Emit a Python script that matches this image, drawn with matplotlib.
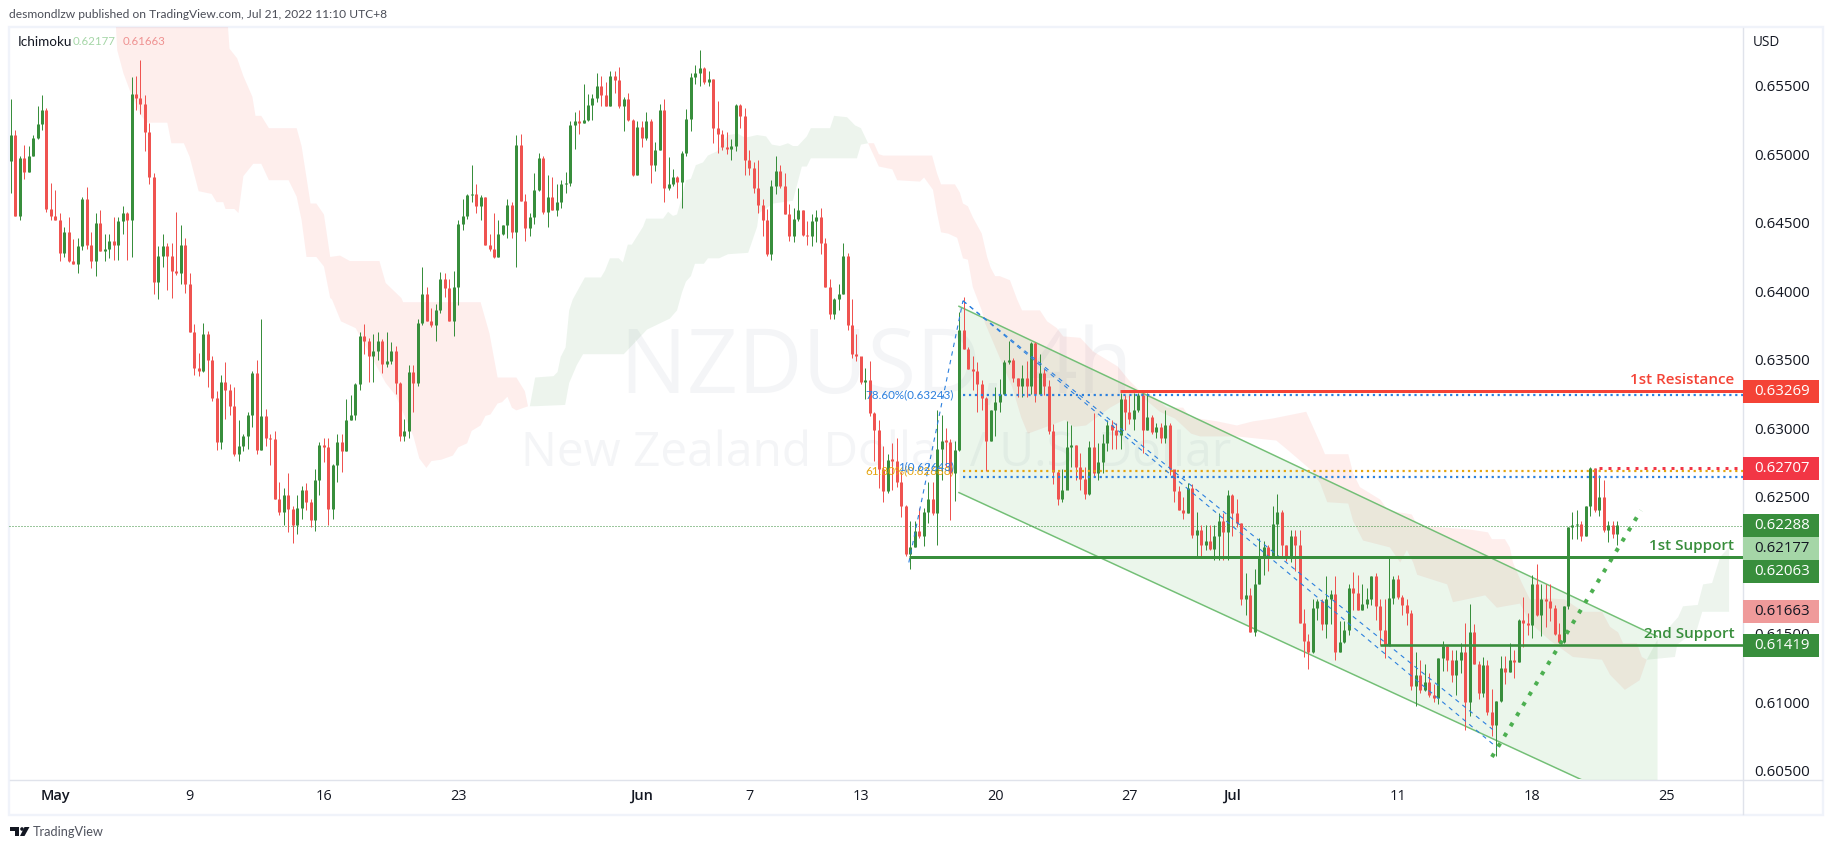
import numpy as np
from matplotlib import pyplot as plt
from matplotlib.patches import Circle, Polygon, Rectangle

plt.rcParams['font.family'] = ['Open Sans', 'DejaVu Sans']

# 4h candles, prices in pips (1 pip = 0.0001)
first_open = 6495
closes = [
    6514, 6455, 6497, 6487, 6499, 6512, 6522, 6532, 6460, 6455,
    6452, 6428, 6443, 6422, 6420, 6433, 6467, 6434, 6422, 6450,
    6429, 6431, 6437, 6434, 6451, 6457, 6452, 6544, 6541, 6537,
    6516, 6483, 6407, 6426, 6433, 6426, 6415, 6413, 6434, 6405,
    6370, 6344, 6342, 6369, 6350, 6322, 6290, 6334, 6328, 6316,
    6281, 6287, 6294, 6310, 6340, 6284, 6309, 6293, 6292, 6248,
    6239, 6251, 6241, 6229, 6242, 6255, 6246, 6233, 6262, 6288,
    6286, 6241, 6273, 6290, 6283, 6306, 6310, 6332, 6367, 6364,
    6353, 6356, 6364, 6347, 6349, 6356, 6333, 6294, 6298, 6341,
    6333, 6377, 6398, 6378, 6375, 6386, 6409, 6402, 6378, 6403,
    6449, 6455, 6470, 6471, 6462, 6469, 6434, 6431, 6425, 6442,
    6448, 6463, 6443, 6507, 6466, 6446, 6454, 6474, 6497, 6458,
    6469, 6459, 6465, 6478, 6479, 6521, 6524, 6523, 6525, 6536,
    6541, 6550, 6543, 6535, 6557, 6554, 6535, 6540, 6525, 6485,
    6520, 6512, 6524, 6492, 6503, 6532, 6475, 6478, 6483, 6480,
    6501, 6526, 6556, 6559, 6563, 6553, 6555, 6519, 6515, 6505,
    6504, 6506, 6536, 6528, 6496, 6490, 6475, 6463, 6452, 6427,
    6477, 6488, 6477, 6456, 6440, 6453, 6459, 6441, 6440, 6451,
    6454, 6435, 6403, 6383, 6394, 6398, 6426, 6375, 6354, 6353,
    6334, 6335, 6311, 6299, 6270, 6254, 6277, 6276, 6261, 6243,
    6208, 6213, 6225, 6221, 6239, 6248, 6238, 6285, 6291, 6290,
    6267, 6284, 6372, 6358, 6343, 6342, 6332, 6322, 6291, 6313,
    6319, 6325, 6348, 6350, 6337, 6331, 6337, 6331, 6362, 6325,
    6340, 6331, 6298, 6268, 6248, 6255, 6286, 6288, 6272, 6263,
    6252, 6286, 6267, 6275, 6289, 6302, 6299, 6295, 6321, 6312,
    6307, 6313, 6324, 6299, 6308, 6297, 6301, 6293, 6302, 6270,
    6254, 6240, 6238, 6256, 6222, 6226, 6215, 6218, 6212, 6221,
    6232, 6224, 6251, 6238, 6231, 6175, 6178, 6151, 6186, 6206,
    6213, 6206, 6230, 6239, 6215, 6206, 6221, 6215, 6158, 6145,
    6137, 6169, 6174, 6157, 6175, 6179, 6137, 6144, 6153, 6183,
    6180, 6167, 6172, 6175, 6192, 6170, 6153, 6142, 6176, 6190,
    6177, 6171, 6165, 6112, 6120, 6109, 6115, 6105, 6103, 6132,
    6141, 6131, 6120, 6131, 6137, 6100, 6151, 6128, 6107, 6127,
    6093, 6083, 6101, 6125, 6122, 6131, 6129, 6160, 6158, 6156,
    6186, 6164, 6175, 6174, 6169, 6150, 6144, 6170, 6228, 6229,
    6230, 6221, 6243, 6271, 6240, 6250, 6226, 6229, 6223, 6229,
]
highs = [
    6540, 6518, 6499, 6507, 6506, 6514, 6535, 6543, 6534, 6479,
    6474, 6457, 6447, 6454, 6438, 6439, 6469, 6476, 6443, 6457,
    6459, 6442, 6442, 6454, 6454, 6462, 6458, 6556, 6557, 6569,
    6543, 6523, 6486, 6433, 6442, 6435, 6435, 6458, 6448, 6439,
    6413, 6376, 6355, 6377, 6371, 6353, 6327, 6339, 6348, 6332,
    6330, 6306, 6296, 6312, 6342, 6350, 6380, 6314, 6296, 6298,
    6261, 6256, 6267, 6243, 6251, 6258, 6260, 6248, 6270, 6290,
    6293, 6293, 6274, 6296, 6296, 6321, 6324, 6333, 6370, 6376,
    6366, 6369, 6370, 6365, 6370, 6363, 6360, 6334, 6307, 6346,
    6346, 6380, 6418, 6403, 6388, 6391, 6414, 6413, 6409, 6415,
    6452, 6467, 6471, 6492, 6478, 6470, 6469, 6442, 6457, 6452,
    6448, 6467, 6465, 6514, 6515, 6471, 6457, 6486, 6501, 6499,
    6485, 6483, 6478, 6481, 6487, 6524, 6531, 6532, 6551, 6544,
    6544, 6559, 6557, 6553, 6561, 6561, 6564, 6542, 6545, 6526,
    6524, 6524, 6531, 6526, 6509, 6537, 6540, 6498, 6489, 6484,
    6502, 6533, 6559, 6565, 6576, 6564, 6561, 6555, 6539, 6518,
    6516, 6511, 6537, 6537, 6534, 6503, 6494, 6496, 6467, 6460,
    6481, 6499, 6492, 6486, 6464, 6461, 6475, 6459, 6451, 6456,
    6459, 6461, 6439, 6409, 6395, 6405, 6435, 6428, 6394, 6369,
    6350, 6344, 6349, 6312, 6306, 6287, 6281, 6289, 6293, 6268,
    6244, 6232, 6232, 6242, 6242, 6261, 6261, 6313, 6310, 6300,
    6292, 6291, 6385, 6396, 6359, 6353, 6348, 6335, 6323, 6313,
    6330, 6336, 6350, 6364, 6351, 6337, 6346, 6349, 6363, 6363,
    6354, 6343, 6335, 6303, 6269, 6270, 6305, 6302, 6288, 6282,
    6272, 6291, 6311, 6289, 6296, 6306, 6306, 6304, 6326, 6324,
    6324, 6326, 6326, 6326, 6326, 6310, 6304, 6304, 6313, 6304,
    6269, 6258, 6250, 6260, 6259, 6239, 6229, 6229, 6229, 6229,
    6238, 6238, 6255, 6252, 6248, 6231, 6194, 6183, 6197, 6220,
    6218, 6215, 6243, 6252, 6240, 6215, 6226, 6226, 6226, 6168,
    6150, 6175, 6175, 6175, 6192, 6182, 6192, 6159, 6159, 6186,
    6195, 6193, 6186, 6183, 6192, 6194, 6175, 6175, 6206, 6192,
    6193, 6178, 6175, 6167, 6137, 6131, 6128, 6121, 6113, 6132,
    6145, 6142, 6138, 6138, 6143, 6158, 6172, 6157, 6130, 6133,
    6131, 6110, 6101, 6134, 6134, 6143, 6138, 6161, 6177, 6165,
    6193, 6201, 6186, 6186, 6186, 6171, 6158, 6170, 6228, 6239,
    6240, 6232, 6243, 6272, 6271, 6266, 6262, 6232, 6232, 6232,
]
lows = [
    6472, 6455, 6452, 6482, 6487, 6499, 6511, 6518, 6458, 6452,
    6452, 6422, 6425, 6421, 6420, 6413, 6430, 6431, 6417, 6411,
    6429, 6422, 6424, 6423, 6423, 6442, 6423, 6425, 6532, 6529,
    6502, 6478, 6398, 6394, 6418, 6401, 6395, 6412, 6405, 6399,
    6370, 6339, 6338, 6341, 6330, 6320, 6284, 6285, 6307, 6310,
    6280, 6276, 6283, 6285, 6301, 6281, 6284, 6287, 6273, 6248,
    6237, 6229, 6224, 6216, 6223, 6234, 6240, 6228, 6225, 6251,
    6275, 6229, 6234, 6261, 6268, 6283, 6306, 6306, 6328, 6354,
    6334, 6334, 6350, 6340, 6345, 6347, 6325, 6291, 6291, 6293,
    6312, 6331, 6375, 6378, 6374, 6364, 6384, 6396, 6378, 6367,
    6390, 6445, 6453, 6465, 6457, 6452, 6434, 6429, 6424, 6425,
    6441, 6439, 6439, 6418, 6466, 6437, 6440, 6449, 6473, 6456,
    6447, 6459, 6455, 6461, 6472, 6477, 6504, 6515, 6523, 6524,
    6525, 6538, 6535, 6535, 6535, 6545, 6534, 6517, 6524, 6484,
    6485, 6505, 6510, 6479, 6488, 6503, 6465, 6474, 6477, 6468,
    6461, 6499, 6517, 6551, 6550, 6551, 6550, 6508, 6501, 6503,
    6500, 6496, 6502, 6519, 6485, 6485, 6472, 6457, 6440, 6426,
    6423, 6471, 6475, 6456, 6437, 6436, 6451, 6440, 6434, 6433,
    6436, 6427, 6403, 6380, 6380, 6386, 6398, 6372, 6351, 6349,
    6332, 6321, 6309, 6276, 6256, 6246, 6253, 6255, 6257, 6235,
    6207, 6197, 6213, 6220, 6214, 6231, 6237, 6215, 6262, 6272,
    6233, 6247, 6283, 6358, 6343, 6328, 6312, 6313, 6269, 6291,
    6294, 6312, 6324, 6347, 6334, 6323, 6323, 6323, 6325, 6319,
    6325, 6324, 6296, 6259, 6244, 6246, 6259, 6272, 6262, 6255,
    6248, 6251, 6265, 6262, 6267, 6283, 6285, 6285, 6285, 6299,
    6303, 6299, 6312, 6282, 6299, 6296, 6293, 6289, 6289, 6266,
    6246, 6240, 6234, 6238, 6220, 6206, 6206, 6211, 6211, 6204,
    6204, 6204, 6204, 6221, 6228, 6171, 6164, 6151, 6148, 6186,
    6193, 6196, 6206, 6206, 6206, 6203, 6202, 6196, 6158, 6133,
    6124, 6136, 6160, 6153, 6147, 6157, 6131, 6137, 6143, 6149,
    6167, 6167, 6167, 6169, 6171, 6160, 6142, 6132, 6142, 6172,
    6175, 6164, 6156, 6109, 6097, 6107, 6108, 6104, 6100, 6099,
    6123, 6123, 6115, 6105, 6121, 6080, 6090, 6128, 6102, 6104,
    6091, 6075, 6061, 6100, 6113, 6122, 6118, 6129, 6140, 6149,
    6147, 6163, 6148, 6155, 6159, 6149, 6143, 6143, 6168, 6219,
    6219, 6218, 6221, 6236, 6239, 6236, 6224, 6217, 6220, 6215,
]

# ichimoku cloud outlines: bar position and price in pips
red1_top_x = [23.4, 48.4, 48.9, 50.6, 52, 54, 54.7, 56, 57.7, 63.9, 65, 67, 68.3, 70, 71.4, 73.6, 75.8,
              82.4, 83.8, 87.3, 87.7, 105, 107, 108.8, 113, 114.9, 115.6]
red1_top_y = [6600, 6600, 6577, 6570, 6557, 6542, 6528, 6528, 6519, 6519, 6506, 6464, 6464, 6456, 6425, 6426, 6422,
              6422, 6406, 6395, 6392, 6392, 6369, 6337, 6337, 6327, 6316]
red1_low_x = [23.4, 23.8, 25.2, 26.8, 29, 30.3, 35, 35.9, 38.7, 40, 42, 44.9, 46, 47.5, 48, 50, 50.9, 52, 54.2, 56,
              57.7, 62.1, 63.9, 65, 66.1, 68.3, 70, 71.4, 71.8, 73.8, 77.1, 83.8, 86, 90, 91.3, 92.9, 94, 96.2,
              98.8, 100, 102, 103, 105, 106.1, 107.2, 108.8, 109.8, 111, 112, 113, 115.6]
red1_low_y = [6600, 6576, 6559, 6545, 6529, 6523, 6523, 6508, 6508, 6498, 6473, 6471, 6465, 6465, 6460, 6460, 6457,
              6484, 6493, 6493, 6481, 6481, 6469, 6452, 6425, 6425, 6418, 6395, 6394, 6378, 6373, 6333, 6324, 6294,
              6278, 6271, 6276, 6277, 6280, 6286, 6289, 6298, 6302, 6309, 6310, 6318, 6319, 6323, 6315, 6313, 6316]

green1_top_x = [116, 117.2, 121.3, 122.2, 122.9, 124, 124.8, 125.6, 128.3, 131.9, 132.8, 133.9, 135.9, 136.8, 137.9,
                138.8, 141.3, 142, 145.8, 146.9, 148, 148.9, 150, 150.9, 152, 153.1, 154.7, 155.8, 157.8, 160.3,
                162.5, 164.1, 166.8, 168.8, 170.1, 171.9, 173.7, 174.8, 175.9, 177.9, 178.8, 183.1, 184, 186.9,
                188.7, 190, 191.6]
green1_top_y = [6316, 6337, 6338, 6341, 6352, 6359, 6386, 6394, 6410, 6410, 6415, 6424, 6424, 6421, 6434,
                6434, 6447, 6453, 6453, 6458, 6455, 6456, 6469, 6481, 6482, 6492, 6494, 6499, 6502, 6514,
                6515, 6512, 6514, 6513, 6507, 6506, 6508, 6506, 6506, 6513, 6519, 6519, 6528, 6527,
                6521, 6519, 6508]
green1_low_x = [116, 117, 123.9, 124.8, 126.5, 127.9, 137, 142.2, 147.3, 148.9, 150, 150.9, 152, 152.9, 154.9, 155.8,
                158.3, 160.3, 164.8, 166.8, 167.2, 170.4, 174.8, 176.8, 177.9, 178.8, 189.1, 190, 191.6]
green1_low_y = [6316, 6316, 6317, 6333, 6346, 6354, 6354, 6372, 6380, 6386, 6399, 6407, 6411, 6420, 6420, 6424,
                6424, 6427, 6428, 6447, 6457, 6464, 6466, 6491, 6491, 6497, 6497, 6507, 6508]

red2_top_x = [191.6, 192.9, 194, 195, 205.9, 207, 207.9, 211, 212.1, 212.8, 213.9, 215, 217, 218.2, 219, 220, 221,
              223.3, 224.9, 226, 230, 231.6, 233.8, 235.2, 239, 241.9, 247.4, 249.9, 252.1, 255, 258.4, 262,
              263.5, 269.6, 274, 277.6, 281.9, 289.5, 292.8, 293.7, 298.9, 300, 301.5, 306, 307.8, 313.1, 314.3,
              326.1, 330.1, 331, 333.9, 335, 335.7, 336.6, 337.7, 339.5, 342.9, 347.3, 351.4, 355.6, 357.4,
              359.2, 360.3, 363.4, 364.5, 365.6]
red2_top_y = [6508, 6508, 6500, 6499, 6499, 6486, 6478, 6478, 6472, 6464, 6462, 6454, 6442, 6425, 6417, 6411, 6411,
              6408, 6394, 6386, 6386, 6378, 6373, 6367, 6366, 6356, 6345, 6335, 6328, 6324, 6315, 6315,
              6308, 6305, 6302, 6305, 6307, 6312, 6288, 6281, 6281, 6267, 6257, 6248, 6240, 6237, 6229,
              6226, 6224, 6219, 6219, 6213, 6202, 6195, 6187, 6175, 6176, 6175, 6166, 6166, 6155,
              6151, 6143, 6143, 6133, 6131]
red2_low_x = [191.6, 194, 197, 198.1, 203.2, 204.1, 206.1, 207, 207.9, 209.5, 211.5, 212.8, 213.9, 215, 217, 217.7,
              223.8, 225.8, 227.3, 235.6, 237.6, 240.3, 245.7, 251.7, 256.8, 260.2, 263.8, 265.8, 274, 282.8,
              285.4, 290.4, 292.6, 294.2, 298.9, 300, 302.2, 308.2, 310.5, 312, 313.4, 314.3, 321, 322.3, 329.5,
              332.1, 337.3, 339.5, 344, 349.1, 355.6, 357.4, 360.7, 364, 365.6]
red2_low_y = [6508, 6491, 6489, 6481, 6480, 6483, 6474, 6457, 6443, 6442, 6439, 6424, 6423, 6403, 6386, 6377,
              6330, 6308, 6296, 6306, 6301, 6302, 6315, 6326, 6312, 6307, 6296, 6294, 6294, 6291,
              6284, 6270, 6260, 6246, 6245, 6232, 6218, 6213, 6202, 6211, 6202, 6193, 6186, 6173, 6178,
              6169, 6172, 6158, 6145, 6133, 6131, 6120, 6109, 6116, 6131]

green2_top_x = [365.6, 367.9, 372.6, 373.7, 377, 378.2, 380.2, 382, 384]
green2_top_y = [6131, 6145, 6162, 6170, 6171, 6186, 6187, 6206, 6213]
green2_low_x = [365.6, 371.9, 372.4, 376.8, 378, 384]
green2_low_y = [6131, 6133, 6142, 6153, 6166, 6166]

# descending channel, ends in (bar, pips)
channel_x = [211.9, 367.9]
channel_up = [6389, 6148]
channel_dn = [6253, 6018]

# fibonacci levels, and where their labels sit
fib_prices = [0.63243, 0.62688, 0.62643]
fib_names = ['78.60%(0.63243)', '61.80%(0.62688)', '1(0.62643)']
fib_label_pos = [0.63243, 0.62688, 0.62716]
fib_colors = ['#2a7fde', '#e5a50f', '#2a7fde']

# horizontal levels
resistance = 0.63269
swing_high = 0.62707
support1 = 0.62063
support2 = 0.61419
last_close = 0.62288

level_names = ['1st Resistance', '1st Support', '2nd Support']
level_name_pos = [0.63354, 0.6214, 0.61497]
level_name_colors = ['#f44336', '#388e3c', '#388e3c']

# fib trend legs and the dotted trendline (bar, pips)
fib_up_x = [200.7, 212.8]
fib_up_y = [6202, 6393]
fib_dn1_x = [212.8, 331.2]
fib_dn1_y = [6393, 6080]
fib_dn2_x = [212.8, 332.1]
fib_dn2_y = [6393, 6067]
trend_x = [331, 364.3]
trend_y = [6060, 6240]

# price axis tags
tag_values = ['0.63269', '0.62707', '0.62288', '0.62177', '0.62063', '0.61663', '0.61419']
tag_pos = [0.63267, 0.62707, 0.62288, 0.62124, 0.61956, 0.6166, 0.61415]
tag_bg = ['#f44336', '#f23645', '#388e3c', '#a5d6a7', '#388e3c', '#ef9a9a', '#388e3c']
tag_fg = ['white', 'white', 'white', '#131722', 'white', '#131722', 'white']

price_ticks = [0.655, 0.65, 0.645, 0.64, 0.635, 0.63, 0.625, 0.62, 0.615, 0.61, 0.605]
time_ticks = [10, 40, 70, 100, 141, 165, 190, 220, 250, 273, 310, 340, 370]
time_labels = ['May', '9', '16', '23', 'Jun', '7', '13', '20', '27', 'Jul', '11', '18', '25']


W, H = 1833, 850
PX = 0.72  # pixels to points at dpi 100
GREEN = '#388e3c'
RED = '#ef5350'

fig = plt.figure(figsize=(W / 100, H / 100), dpi=100, facecolor='white')

# page furniture, in pixel coordinates
page = fig.add_axes([0, 0, 1, 1], zorder=-1)
page.set_xlim(0, W)
page.set_ylim(H, 0)
page.axis('off')
page.add_patch(Rectangle((9, 27), 1814, 788, fill=False, ec='#f0f3fa', lw=2.4 * PX))
page.plot([1743, 1743], [28, 814], color='#e0e3eb', lw=1.4 * PX)
page.plot([10, 1822], [779.5, 779.5], color='#e0e3eb', lw=1.4 * PX)
page.text(9, 14.5, 'desmondlzw published on TradingView.com, Jul 21, 2022 11:10 UTC+8',
          fontsize=12 * PX, color='#4a4d57', va='center', family='Lato')
page.text(33, 832.5, 'TradingView', fontsize=12.8 * PX, color='#50535e', va='center', family='Lato')
page.text(1753, 42.5, 'USD', fontsize=13.5 * PX, color='#131722', va='center')
page.text(18, 41.5, 'Ichimoku', fontsize=13.5 * PX, color='#131722', va='center', family='Lato')
page.text(73, 41.5, '0.62177', fontsize=11.5 * PX, color='#a5d6a7', va='center', family='Lato')
page.text(123, 41.5, '0.61663', fontsize=11.5 * PX, color='#ef9a9a', va='center', family='Lato')
page.add_patch(Polygon([(10, 827), (19.5, 827), (19.5, 836), (15, 836), (15, 831), (10, 831)], color='#131722', lw=0))
page.add_patch(Circle((22, 829), 1.8, color='#131722', lw=0))
page.add_patch(Polygon([(24.5, 827), (29.5, 827), (24.5, 836), (20, 836)], color='#131722', lw=0))

ax = fig.add_axes([9 / W, (H - 779) / H, (1743 - 9) / W, (779 - 27) / H])
ax.patch.set_alpha(0)
ax.set_xlim((9 - 10.7) / 4.475, (1743 - 10.7) / 4.475)
ax.set_ylim(0.605 - 8.3 / 13700, 0.605 + 743.7 / 13700)
for s in ax.spines.values():
    s.set_visible(False)

# axis labels
ax.yaxis.tick_right()
ax.set_yticks(price_ticks)
ax.set_yticklabels(['%.5f' % p for p in price_ticks], fontsize=15 * PX, color='#131722')
ax.tick_params(axis='y', length=0, pad=11 * PX)
ax.set_xticks(time_ticks)
ax.set_xticklabels(time_labels, fontsize=14.5 * PX, color='#131722')
ax.tick_params(axis='x', length=0, pad=10 * PX)
for t in ax.get_xticklabels():
    if t.get_text() in ('May', 'Jun', 'Jul'):
        t.set_fontweight('semibold')

# watermark
ax.text(193.5, 0.6343, 'NZDUSD, 4h', fontsize=89 * PX, color='#f4f5f7', ha='center', va='center', zorder=0.5)
ax.text(193.5, 0.6282, 'New Zealand Dollar / U.S. Dollar', fontsize=47.8 * PX, color='#f4f5f7',
        ha='center', va='center', zorder=0.5)


def cloud(tx, ty, lx, ly, color):
    xs = list(tx) + list(lx)[::-1]
    ys = [v / 10000 for v in ty] + [v / 10000 for v in ly][::-1]
    ax.fill(xs, ys, color=color, alpha=0.09, lw=0, zorder=1)


cloud(red1_top_x, red1_top_y, red1_low_x, red1_low_y, '#f44336')
cloud(green1_top_x, green1_top_y, green1_low_x, green1_low_y, GREEN)
cloud(red2_top_x, red2_top_y, red2_low_x, red2_low_y, '#f44336')
cloud(green2_top_x, green2_top_y, green2_low_x, green2_low_y, GREEN)

# channel
cu = np.array(channel_up) / 10000
cd = np.array(channel_dn) / 10000
ax.fill_between(channel_x, cu, cd, color='#4caf50', alpha=0.11, lw=0, zorder=2)
ax.plot(channel_x, cu, color='#73bf76', lw=1.5 * PX, zorder=2.2)
ax.plot(channel_x, cd, color='#73bf76', lw=1.5 * PX, zorder=2.2)

# candles, wick and body both as snapped vertical lines so the widths stay even
c = np.array(closes) / 10000
h = np.array(highs) / 10000
l = np.array(lows) / 10000
o = np.r_[first_open / 10000, c[:-1]]
x = np.arange(len(c))
colors = [GREEN if cc >= oo else RED for oo, cc in zip(o, c)]
wicks = ax.vlines(x, l, h, colors=colors, lw=1 * PX, zorder=3)
wicks.set_snap(True)
body = np.maximum(np.abs(c - o), 0.00012)
bottoms = np.minimum(o, c)
bodies = ax.vlines(x, bottoms, bottoms + body, colors=colors, lw=3 * PX, zorder=3.1, capstyle='butt')
bodies.set_snap(True)

# levels
left, right = ax.get_xlim()
ax.hlines(last_close, left, right, color=GREEN, lw=1 * PX, linestyles=(0, (1, 2)), zorder=2.9)
ax.hlines(fib_prices, 212.8, right, colors=fib_colors, lw=2.2 * PX, linestyles=(0, (1, 1.7)), zorder=4)
for p, n, col in zip(fib_label_pos, fib_names, fib_colors):
    ax.text(210.8, p, n, fontsize=11.6 * PX, color=col, ha='right', va='center', zorder=4.5, family='Lato')
ax.hlines(resistance, 247.9, right, color='#f44336', lw=3 * PX, zorder=5)
ax.hlines(swing_high, 355, right, color='#f23645', lw=3 * PX, linestyles=(0, (1, 2)), zorder=5)
ax.hlines(support1, 200.7, right, color=GREEN, lw=3 * PX, zorder=5)
ax.hlines(support2, 306, right, color=GREEN, lw=2.6 * PX, zorder=5)

# fib trend legs and trendline
ax.plot(fib_up_x, np.array(fib_up_y) / 10000, color='#2a7fde', lw=1.1 * PX, ls=(0, (4, 4)), zorder=4.4)
ax.plot(fib_dn1_x, np.array(fib_dn1_y) / 10000, color='#2a7fde', lw=1.1 * PX, ls=(0, (4, 4)), zorder=4.4)
ax.plot(fib_dn2_x, np.array(fib_dn2_y) / 10000, color='#2a7fde', lw=1.1 * PX, ls=(0, (4, 4)), zorder=4.4)
ax.plot(trend_x, np.array(trend_y) / 10000, color='#4caf50', lw=4 * PX, ls=(0, (1, 2)), zorder=4.6)

# level names
for p, name, col in zip(level_name_pos, level_names, level_name_colors):
    ax.text(385.2, p, name, fontsize=15.3 * PX, color=col, ha='right', va='center', fontweight='semibold', zorder=6)

# price tags on the axis
trans = ax.get_yaxis_transform()
tag_h = 22.7 / 13700
for val, pos, bg, fg in zip(tag_values, tag_pos, tag_bg, tag_fg):
    ax.add_patch(Rectangle((1.0, pos - tag_h / 2), 76 / 1734, tag_h, transform=trans, color=bg, lw=0,
                           clip_on=False, zorder=7))
    ax.text(1.0 + 11 / 1734, pos, val, transform=trans, fontsize=15 * PX, color=fg, va='center', clip_on=False, zorder=8)

fig.savefig('out.png', dpi=100)
